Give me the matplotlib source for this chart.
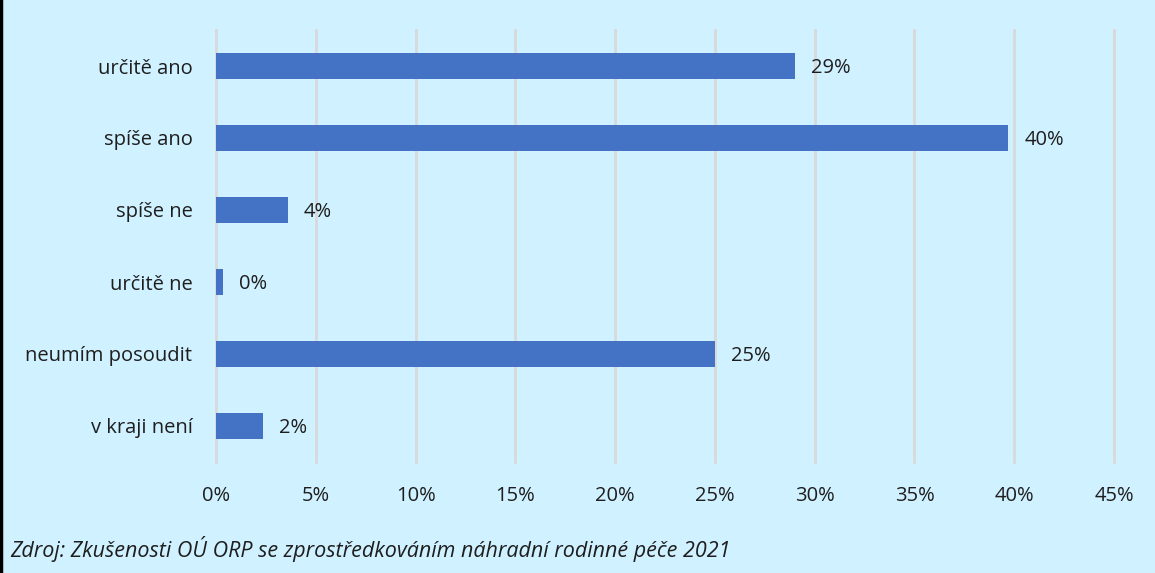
import matplotlib
matplotlib.use("Agg")
import matplotlib.pyplot as plt
from matplotlib.lines import Line2D

categories = ["určitě ano", "spíše ano", "spíše ne", "určitě ne", "neumím posoudit", "v kraji není"]
values = [29.0, 39.7, 3.6, 0.35, 25.0, 2.35]
labels = ["29%", "40%", "4%", "0%", "25%", "2%"]
xticks = [0, 5, 10, 15, 20, 25, 30, 35, 40, 45]
source = "Zdroj: Zkušenosti OÚ ORP se zprostředkováním náhradní rodinné péče 2021"

bg = "#D0F1FF"
bar_color = "#4472C4"
txt = "#1e1e1e"
plt.rcParams['font.family'] = ['Open Sans', 'DejaVu Sans']

fig = plt.figure(figsize=(11.55, 5.73), dpi=100, facecolor=bg)
ax = fig.add_axes([216/1155, 1-462/573, (1114-216)/1155, 432/573])
ax.set_facecolor(bg)

y = list(range(len(categories)))
ax.barh(y, values, height=0.36, color=bar_color, zorder=3)
for yi, v, lab in zip(y, values, labels):
    ax.text(v + 0.8, yi + 0.03, lab, va='center', ha='left', fontsize=14.5, color=txt)

ax.set_yticks(y)
ax.set_yticklabels(categories, fontsize=14.5, color=txt)
ax.set_ylim(len(categories)-0.5, -0.5)
ax.set_xlim(0, 45)
ax.set_xticks(xticks)
ax.set_xticklabels([f"{t}%" for t in xticks], fontsize=14.5, color=txt)
ax.tick_params(axis='both', length=0)
ax.tick_params(axis='x', pad=17)
ax.tick_params(axis='y', pad=17)
ax.grid(axis='x', color='#D9D9D9', linewidth=2, zorder=0)
for gl in ax.xaxis.get_gridlines():
    gl.set_clip_on(False)
for s in ax.spines.values():
    s.set_visible(False)

fig.text(10/1155, 1-549/573, source, fontsize=15.5, style='italic', va='center', ha='left', color=txt)
fig.add_artist(Line2D([1/1155, 1/1155], [0, 1], transform=fig.transFigure, color='black', linewidth=2.5))

fig.savefig("out.png", dpi=100, facecolor=bg)
